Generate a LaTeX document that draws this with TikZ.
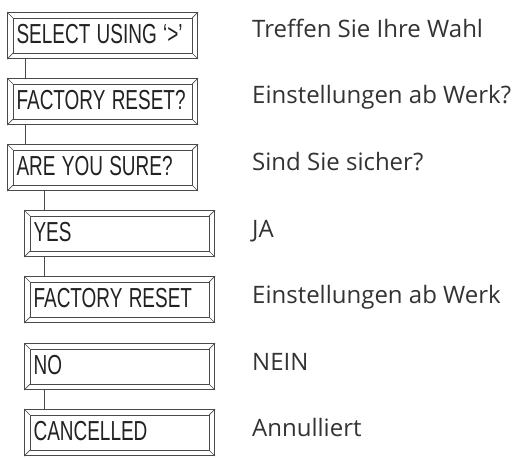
\documentclass[tikz,border=0pt]{standalone}
\usepackage{fontspec}
\usepackage{graphicx}
\usetikzlibrary{calc}
\newfontfamily\boxfont{Liberation Sans}
\newfontfamily\rightfont{Open Sans}
\definecolor{frame}{HTML}{4A4A4A}
\definecolor{ink}{HTML}{222222}
\definecolor{inkr}{HTML}{333333}
\newcommand{\bt}[1]{\scalebox{0.69}[1]{#1}}
\tikzset{
  lcd/.style={rectangle, draw=frame, line width=1.1pt, minimum width=190pt, minimum height=46pt,
    anchor=north west, inner xsep=9pt, inner ysep=0pt, text width=172pt, align=left,
    text height=16pt, text depth=0pt,
    font=\boxfont\fontsize{27.5}{30}\selectfont, text=ink},
  note/.style={anchor=base west, inner sep=0pt, font=\rightfont\fontsize{24}{28}\selectfont, text=inkr},
  link/.style={draw=frame, line width=1pt}
}
\begin{document}
\begin{tikzpicture}[x=1pt,y=-1pt]
\useasboundingbox (0,0) rectangle (521,457);
\node[lcd] (b1) at (7,12) {\bt{SELECT USING ‘>’}};
\node[lcd] (b2) at (7,78) {\bt{FACTORY RESET?}};
\node[lcd] (b3) at (7,144) {\bt{ARE YOU SURE?}};
\node[lcd] (b4) at (24,210) {\bt{YES}};
\node[lcd] (b5) at (24,276) {\bt{FACTORY RESET}};
\node[lcd] (b6) at (24,343) {\bt{NO}};
\node[lcd] (b7) at (24,409) {\bt{CANCELLED}};
\foreach \n in {b1,b2,b3,b4,b5,b6,b7}{
  \draw[frame, line width=0.8pt]
    ($(\n.north west)+(6,6)$) coordinate (\n-a)
    rectangle ($(\n.south east)+(-6,-6)$) coordinate (\n-c);
  \draw[frame, line width=0.6pt]
    (\n.north west) -- (\n-a)
    (\n.south east) -- (\n-c)
    (\n.north east) -- ($(\n.north east)+(-6,6)$)
    (\n.south west) -- ($(\n.south west)+(6,-6)$);
}
\draw[link] ([xshift=18pt]b1.south west) -- ([xshift=18pt]b2.north west);
\draw[link] ([xshift=18pt]b2.south west) -- ([xshift=18pt]b3.north west);
\draw[link] ([xshift=37pt]b3.south west) -- ([xshift=20pt]b4.north west);
\draw[link] ([xshift=20pt]b4.south west) -- ([xshift=20pt]b5.north west);
\draw[link] ([xshift=20pt]b6.south west) -- ([xshift=20pt]b7.north west);
\node[note] (t1) at (252,38) {Treffen Sie Ihre Wahl};
\node[note] (t2) at (252,104) {Einstellungen ab Werk?};
\node[note] (t3) at (252,170) {Sind Sie sicher?};
\node[note] (t4) at (252,237) {JA};
\node[note] (t5) at (252,303) {Einstellungen ab Werk};
\node[note] (t6) at (252,370) {NEIN};
\node[note] (t7) at (252,436) {Annulliert};
\end{tikzpicture}
\end{document}
